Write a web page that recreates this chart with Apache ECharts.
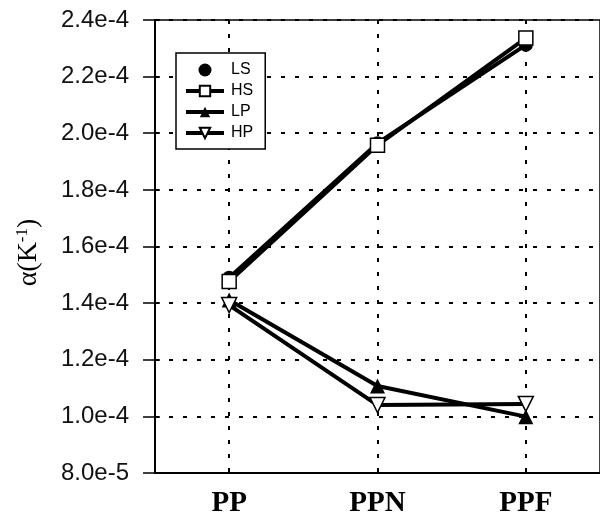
<!DOCTYPE html>
<html>
<head>
<meta charset="utf-8">
<script src="https://cdn.jsdelivr.net/npm/echarts@6/dist/echarts.min.js"></script>
<style>
  html, body { margin: 0; padding: 0; background: #fff; }
  #chart { width: 600px; height: 518px; }
</style>
</head>
<body>
<div id="chart"></div>
<script>
// 样品类别
const categories = ['PP', 'PPN', 'PPF'];
// 各系列热膨胀系数
const lsValues = [1.49e-4, 1.965e-4, 2.312e-4];
const hsValues = [1.476e-4, 1.958e-4, 2.336e-4];
const lpValues = [1.411e-4, 1.107e-4, 0.999e-4];
const hpValues = [1.393e-4, 1.040e-4, 1.044e-4];
const yMin = 8e-5, yMax = 2.4e-4, yStep = 2e-5;

const dotted = {color: '#000', width: 2, type: [4, 10]};

function makeSeries(name, data, symbol, filled, rotate) {
    return {
        name: name,
        type: 'line',
        data: data,
        symbol: symbol,
        symbolSize: symbol === 'triangle' ? 15 : 14,
        symbolRotate: rotate || 0,
        showAllSymbol: true,
        lineStyle: {color: '#000', width: 4},
        itemStyle: {
            color: filled ? '#000' : '#fff',
            borderColor: '#000',
            borderWidth: filled ? 0 : 1.5
        },
        emphasis: {disabled: true},
        animation: false
    };
}

const chart = echarts.init(document.getElementById('chart'));
chart.setOption({
    backgroundColor: '#fff',
    grid: {
        left: 155, top: 20, width: 452, height: 453,
        show: true, borderColor: '#000', borderWidth: 1.5
    },
    legend: {
        orient: 'vertical',
        left: 176, top: 53,
        backgroundColor: '#fff',
        borderColor: '#000',
        borderWidth: 1.5,
        borderRadius: 0,
        padding: [9, 12, 8, 8],
        itemWidth: 38,
        itemHeight: 13,
        itemGap: 5,
        lineStyle: {width: 4, color: '#000'},
        textStyle: {fontFamily: 'Liberation Sans', fontSize: 16, color: '#000', padding: [0, 0, 0, 2]},
        data: [
            {name: 'LS', icon: 'circle'},
            'HS', 'LP', 'HP'
        ]
    },
    xAxis: {
        type: 'category',
        data: categories,
        axisLine: {lineStyle: {color: '#000', width: 2}},
        axisTick: {alignWithLabel: true, length: 10, lineStyle: {color: '#000', width: 1.5}},
        axisLabel: {
            fontFamily: 'Liberation Serif', fontWeight: 'bold', fontSize: 29,
            color: '#000', margin: 16
        },
        splitLine: {show: true, alignWithLabel: true, lineStyle: dotted}
    },
    yAxis: [{
        type: 'value',
        min: yMin, max: yMax, interval: yStep,
        name: '{a|α(K}{s|-1}{a|)}',
        nameLocation: 'middle',
        nameRotate: 90,
        nameGap: 112,
        nameTextStyle: {
            padding: [0, 12, 0, 0],
            rich: {
                a: {fontFamily: 'Liberation Serif', fontSize: 28, color: '#000'},
                s: {fontFamily: 'Liberation Serif', fontSize: 17, color: '#000', verticalAlign: 'top', padding: [0, 0, 12, 0]}
            }
        },
        axisLine: {show: true, lineStyle: {color: '#000', width: 2}},
        axisTick: {show: true, length: 12, lineStyle: {color: '#000', width: 1.5}},
        axisLabel: {
            fontFamily: 'Liberation Sans', fontSize: 24, color: '#111', margin: 26,
            formatter: v => v.toExponential(1)
        },
        splitLine: {show: true, lineStyle: dotted}
    }, {
        // 轴内侧的短刻度
        type: 'value',
        position: 'left',
        min: yMin, max: yMax, interval: yStep,
        axisLine: {show: false},
        axisTick: {show: true, inside: true, length: 5, lineStyle: {color: '#000', width: 1.5}},
        axisLabel: {show: false},
        splitLine: {show: false}
    }],
    series: [
        makeSeries('LS', lsValues, 'circle', true),
        makeSeries('HS', hsValues, 'rect', false),
        makeSeries('LP', lpValues, 'triangle', true),
        makeSeries('HP', hpValues, 'triangle', false, 180)
    ]
});
</script>
</body>
</html>
